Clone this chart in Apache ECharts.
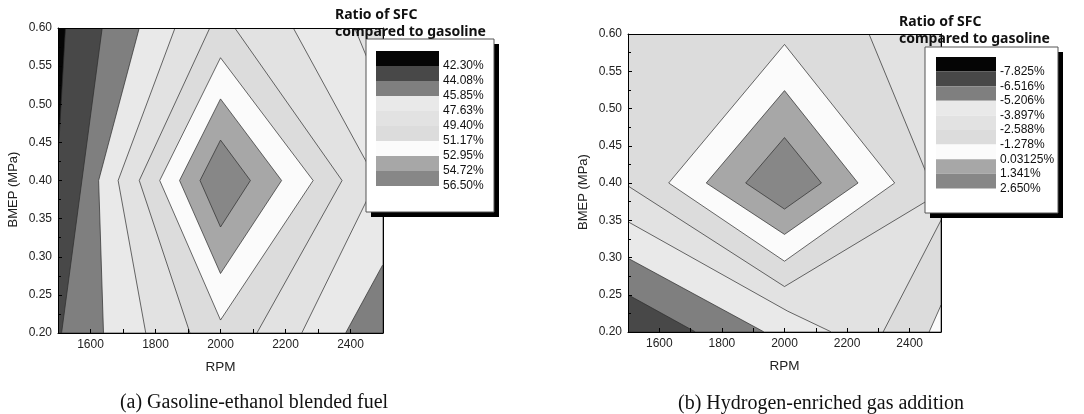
<!DOCTYPE html>
<html>
<head>
<meta charset="utf-8">
<script src="https://cdn.jsdelivr.net/npm/echarts@6/dist/echarts.min.js"></script>
<style>
  html, body { margin: 0; padding: 0; background: #fff; }
  #chart { width: 1084px; height: 414px; }
</style>
</head>
<body>
<div id="chart"></div>
<script>
// band colours, lowest level first (same order as legend swatches)
var shades = ['#050505', '#484848', '#7f7f7f', '#e9e9e9', '#e2e2e2', '#dcdcdc', '#fbfbfb', '#a7a7a7', '#878787'];

var levelsA = ['42.30%', '44.08%', '45.85%', '47.63%', '49.40%', '51.17%', '52.95%', '54.72%', '56.50%'];
var levelsB = ['-7.825%', '-6.516%', '-5.206%', '-3.897%', '-2.588%', '-1.278%', '0.03125%', '1.341%', '2.650%'];

var rpmLabels = [1600, 1800, 2000, 2200, 2400];

// (a) contour regions, [RPM, BMEP] vertices, painted from lowest band up
var aBlack = [[1500, 0.6], [1500, 0.2], [2500, 0.2], [2500, 0.6]];
var aDark = [[1523, 0.6], [1500, 0.43], [1500, 0.2], [2500, 0.2], [2500, 0.6]];
var aMid = [[1636, 0.6], [1511, 0.2], [2500, 0.2], [2500, 0.6]];
var aLight1 = [[1750, 0.6], [1625, 0.4], [1640, 0.2], [2385, 0.2], [2500, 0.29], [2500, 0.6]];
var aLight2 = [[1860, 0.6], [1685, 0.4], [1770, 0.2], [2250, 0.2], [2480, 0.4], [2224, 0.6]];
var aCorner = [[2413, 0.6], [2500, 0.6], [2500, 0.51]];
var aLight3 = [[1967, 0.6], [1750, 0.4], [1906, 0.2], [2112, 0.2], [2374, 0.4], [2044, 0.6]];
var aWhite = [[2000, 0.561], [1813, 0.4], [2000, 0.217], [2285, 0.4]];
var aGray1 = [[2000, 0.507], [1874, 0.4], [2000, 0.278], [2188, 0.4]];
var aGray2 = [[2000, 0.453], [1937, 0.4], [2000, 0.339], [2092, 0.4]];

var contoursA = [[aBlack, 0], [aDark, 1], [aMid, 2], [aLight1, 3], [aLight2, 4], [aCorner, 4],
  [aLight3, 5], [aWhite, 6], [aGray1, 7], [aGray2, 8]];

// (b) contour regions
var bDark = [[1500, 0.6], [1500, 0.2], [2500, 0.2], [2500, 0.6]];
var bMid = [[1500, 0.6], [1500, 0.25], [1716, 0.2], [2500, 0.2], [2500, 0.6]];
var bLight1 = [[1500, 0.6], [1500, 0.299], [1935, 0.2], [2500, 0.2], [2500, 0.6]];
var bLight2 = [[1500, 0.6], [1500, 0.348], [2010, 0.228], [2150, 0.2], [2500, 0.2], [2500, 0.6]];
var bLight3 = [[1500, 0.6], [1500, 0.396], [2000, 0.261], [2483, 0.383], [2270, 0.6]];
var bLight3b = [[2315, 0.2], [2500, 0.2], [2500, 0.35]];
var bCorner = [[2462, 0.2], [2500, 0.2], [2500, 0.236]];
var bWhite = [[2000, 0.586], [1630, 0.4], [2000, 0.295], [2352, 0.4]];
var bGray1 = [[2000, 0.524], [1750, 0.4], [2000, 0.331], [2235, 0.4]];
var bGray2 = [[2000, 0.461], [1876, 0.4], [2000, 0.365], [2118, 0.4]];

var contoursB = [[bDark, 1], [bMid, 2], [bLight1, 3], [bLight2, 4], [bLight3, 5], [bLight3b, 5],
  [bCorner, 6], [bWhite, 6], [bGray1, 7], [bGray2, 8]];

var myChart = echarts.init(document.getElementById('chart'));

function polyItem(list) {
	return function (params, api) {
		var c = list[params.dataIndex];
		var pts = c[0].map(function (d) { return api.coord(d); });
		return {
			type: 'polygon',
			shape: { points: pts },
			style: { fill: shades[c[1]], stroke: '#2b2b2b', lineWidth: 0.7 }
		};
	};
}

function bottomX(g) {
	return {
		type: 'value', gridIndex: g, min: 1500, max: 2500, interval: 100, z: 5,
		name: 'RPM', nameLocation: 'middle', nameGap: 27,
		nameTextStyle: { fontFamily: 'Liberation Sans', fontSize: 13.5, color: '#222' },
		axisLine: { show: true, onZero: false, lineStyle: { color: '#000', width: 1 } },
		axisTick: { show: true, inside: true, length: 4, lineStyle: { color: '#000' } },
		axisLabel: {
			margin: 6, fontFamily: 'Liberation Sans', fontSize: 12, color: '#222',
			formatter: function (v) { return rpmLabels.indexOf(v) >= 0 ? String(v) : ''; }
		},
		splitLine: { show: false }
	};
}

function topX(g) {
	return {
		type: 'value', gridIndex: g, position: 'top', min: 1500, max: 2500, z: 5,
		axisLine: { show: true, onZero: false, lineStyle: { color: '#000', width: 1 } },
		axisTick: { show: false }, axisLabel: { show: false }, splitLine: { show: false }
	};
}

function leftY(g) {
	return {
		type: 'value', gridIndex: g, min: 0.2, max: 0.6, interval: 0.05, z: 5,
		name: 'BMEP (MPa)', nameLocation: 'middle', nameGap: 38,
		nameTextStyle: { fontFamily: 'Liberation Sans', fontSize: 13, color: '#222', padding: [0, 18, 0, 0] },
		axisLine: { show: true, onZero: false, lineStyle: { color: '#000', width: 1 } },
		axisTick: { show: true, inside: true, length: 4, lineStyle: { color: '#000' } },
		minorTick: { show: true, splitNumber: 2, length: 3, lineStyle: { color: '#000' } },
		axisLabel: {
			margin: 6, fontFamily: 'Liberation Sans', fontSize: 12, color: '#222',
			formatter: function (v) { return v.toFixed(2); }
		},
		splitLine: { show: false }
	};
}

function rightY(g) {
	return {
		type: 'value', gridIndex: g, position: 'right', min: 0.2, max: 0.6, z: 5,
		axisLine: { show: true, onZero: false, lineStyle: { color: '#000', width: 1 } },
		axisTick: { show: false }, axisLabel: { show: false }, splitLine: { show: false }
	};
}

function textEl(x, y, txt, font, align) {
	return {
		type: 'text', x: x, y: y, z: 100,
		style: {
			text: txt, font: font, fill: '#111',
			textAlign: align, align: align, textVerticalAlign: 'middle', verticalAlign: 'middle'
		}
	};
}

// box: [x, y, w, h], sw: [x, y, w, h of one swatch], tl: [x, y of title]
function legendBox(box, sw, labels, tl) {
	var els = [];
	els.push({ type: 'rect', z: 90, shape: { x: box[0] + 5, y: box[1] + 5, width: box[2], height: box[3] }, style: { fill: '#000' } });
	els.push({ type: 'rect', z: 91, shape: { x: box[0], y: box[1], width: box[2], height: box[3] }, style: { fill: '#fff', stroke: '#555', lineWidth: 1 } });
	for (var i = 0; i < labels.length; i++) {
		els.push({ type: 'rect', z: 92, shape: { x: sw[0], y: sw[1] + i * sw[3], width: sw[2], height: sw[3] }, style: { fill: shades[i] } });
		els.push(textEl(sw[0] + sw[2] + 4, sw[1] + (i + 1) * sw[3], labels[i], '12px "Liberation Sans"', 'left'));
	}
	els.push(textEl(tl[0], tl[1], 'Ratio of SFC', 'bold 14px "Noto Sans"', 'left'));
	els.push(textEl(tl[0], tl[1] + 17, 'compared to gasoline', 'bold 14px "Noto Sans"', 'left'));
	return els;
}

var graphics = []
	.concat(legendBox([366, 39, 128, 173], [376, 51, 63, 15], levelsA, [335, 15]))
	.concat(legendBox([925, 47, 133, 166], [936, 57, 60, 14.6], levelsB, [899, 22]))
	.concat([
		textEl(254, 403, '(a) Gasoline-ethanol blended fuel', '20px "Liberation Serif"', 'center'),
		textEl(821, 404, '(b) Hydrogen-enriched gas addition', '20px "Liberation Serif"', 'center')
	]);

var option = {
	animation: false,
	backgroundColor: '#fff',
	grid: [
		{ left: 58, top: 28, width: 325, height: 305 },
		{ left: 628, top: 34, width: 313, height: 298 }
	],
	xAxis: [bottomX(0), topX(0), bottomX(1), topX(1)],
	yAxis: [leftY(0), rightY(0), leftY(1), rightY(1)],
	series: [{
		type: 'custom', xAxisIndex: 0, yAxisIndex: 0, z: 1, silent: true, clip: true,
		renderItem: polyItem(contoursA),
		data: contoursA.map(function (c) { return c[0][0]; })
	}, {
		type: 'custom', xAxisIndex: 2, yAxisIndex: 2, z: 1, silent: true, clip: true,
		renderItem: polyItem(contoursB),
		data: contoursB.map(function (c) { return c[0][0]; })
	}],
	graphic: graphics
};

myChart.setOption(option);
</script>
</body>
</html>
